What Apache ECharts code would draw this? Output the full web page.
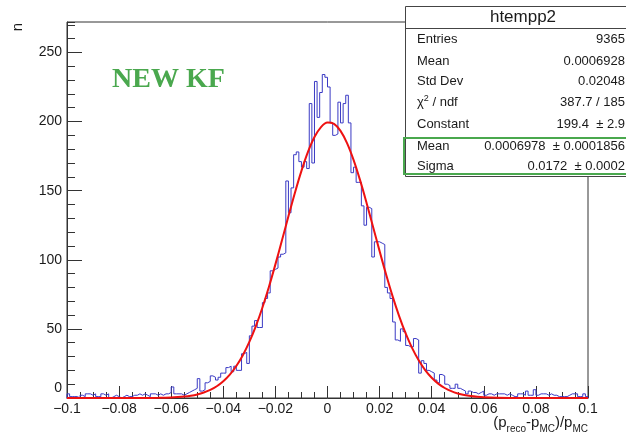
<!DOCTYPE html>
<html><head><meta charset="utf-8">
<script src="https://cdn.jsdelivr.net/npm/echarts@6/dist/echarts.min.js"></script>
<style>html,body{margin:0;padding:0;background:#fff}#c{width:626px;height:435px}</style>
</head><body><div id="c"></div>
<script>
// ---- histogram definition ----
const binLow = -0.1;
const binWidth = 0.001;
const counts = [
  3,1,1,1,0,2,1,3,3,2,
  3,1,1,3,2,3,0,1,2,1,
  0,1,2,1,1,2,2,3,2,3,
  2,1,3,3,2,3,2,3,3,4,
  8,3,3,3,2,3,4,5,6,7,
  14,5,6,11,12,16,15,13,15,18,
  18,22,23,19,23,20,20,32,33,25,
  45,52,56,51,51,69,72,76,92,93,
  94,102,104,105,157,134,152,176,178,171,
  167,171,166,213,170,229,203,221,234,232,
  225,199,190,191,214,199,213,219,199,163,
  167,156,156,139,125,138,137,102,113,113,
  112,111,80,76,72,55,42,41,50,48,
  38,37,37,43,42,18,27,25,20,19,
  18,13,11,17,16,10,9,7,7,10,
  7,6,5,3,5,4,4,3,4,5,
  2,3,3,2,3,3,3,3,2,3,
  2,1,1,3,3,2,5,2,2,6,
  2,3,3,3,2,3,2,2,1,1,
  1,1,2,3,3,3,1,1,3,1
];
// ---- fitted curve ----
const fitX = [-0.1,-0.08,-0.07,-0.065,-0.06,-0.0575,-0.055,-0.0525,-0.05,-0.0475,-0.045,-0.0425,-0.04,-0.0375,-0.035,-0.0325,-0.03,-0.0275,-0.025,-0.0225,-0.02,-0.0175,-0.015,-0.0125,-0.01,-0.0075,-0.005,-0.0025,0,0.0025,0.005,0.0075,0.01,0.0125,0.015,0.0175,0.02,0.0225,0.025,0.0275,0.03,0.0325,0.035,0.0375,0.04,0.0425,0.045,0.0475,0.05,0.0525,0.055,0.0575,0.06,0.065,0.07,0.08,0.1];
const fitY = [0,0,0.03,0.14,0.39,0.65,1.05,1.67,2.59,3.93,5.84,8.51,12.13,16.93,23.14,30.96,40.55,52.01,65.30,80.29,96.66,113.92,131.46,148.54,164.32,177.98,188.75,195.98,199.23,198.31,193.26,184.41,172.28,157.59,141.14,123.75,106.25,89.31,73.50,59.23,46.73,36.10,27.30,20.22,14.66,10.40,7.23,4.92,3.28,2.14,1.37,0.85,0.52,0.18,0.05,0,0];
// ---- stats box ----
const statTitle = 'htempp2';
const statLabels = ['Entries','Mean','Std Dev','{n|χ}{sup|2}{n| / ndf}','Constant','Mean','Sigma'];
const statValues = ['9365','0.0006928','0.02048','387.7 / 185','199.4  ± 2.9','0.0006978  ± 0.0001856','0.0172  ± 0.0002'];
const xMin = -0.1, xMax = 0.1, xStep = 0.02;
const yMin = 0, yMax = 272, yStep = 50, yMinorStep = 10;

const font = '"Liberation Sans", Arial, Helvetica, sans-serif';
const axisColor = '#333';
const txtColor = '#1a1a1a';
const green = '#4aa84e';

const histData = [[binLow, 0]];
counts.forEach((n, i) => histData.push([+(binLow + i * binWidth).toFixed(4), n]));
const binHigh = +(binLow + counts.length * binWidth).toFixed(4);
histData.push([binHigh, counts[counts.length - 1]]);
histData.push([binHigh, 0]);
const fitData = fitX.map((x, i) => [x, fitY[i]]);

const chart = echarts.init(document.getElementById('c'), null, {renderer: 'canvas'});

const rowY = [39, 61, 81, 102, 124, 146, 166];
const statEls = [
  {type: 'rect', shape: {x: 405.5, y: 6.5, width: 240, height: 170}, style: {fill: '#fff', stroke: '#444', lineWidth: 1}},
  {type: 'line', shape: {x1: 405.5, y1: 28.5, x2: 646, y2: 28.5}, style: {stroke: '#444', lineWidth: 1}},
  {type: 'text', x: 523, y: 17, style: {text: statTitle, fontFamily: font, fontSize: 17, fill: txtColor, align: 'center', verticalAlign: 'middle'}},
  {type: 'rect', shape: {x: 404, y: 138, width: 240, height: 36}, style: {fill: 'none', stroke: green, lineWidth: 2}}
];
statLabels.forEach((t, i) => {
  statEls.push({type: 'text', x: 417, y: rowY[i], style: {text: t, fontFamily: font, fontSize: 13, fill: txtColor, align: 'left', verticalAlign: 'middle',
    rich: {n: {fontFamily: font, fontSize: 13, fill: txtColor, lineHeight: 16, verticalAlign: 'middle'}, sup: {fontFamily: font, fontSize: 9, fill: txtColor, lineHeight: 9, verticalAlign: 'top'}}}});
  statEls.push({type: 'text', x: 625, y: rowY[i], style: {text: statValues[i], fontFamily: font, fontSize: 13, fill: txtColor, align: 'right', verticalAlign: 'middle'}});
});

const option = {
  animation: false,
  backgroundColor: '#fff',
  grid: {left: 67, top: 22, width: 521, height: 376, show: true, borderColor: axisColor, borderWidth: 1, backgroundColor: 'transparent'},
  xAxis: [{
    type: 'value', min: xMin, max: xMax, interval: xStep,
    axisLine: {show: true, onZero: false, lineStyle: {color: axisColor, width: 1}},
    axisTick: {show: true, inside: true, length: 12, lineStyle: {color: axisColor}},
    minorTick: {show: true, splitNumber: 4, length: 6, lineStyle: {color: axisColor}},
    splitLine: {show: false}, minorSplitLine: {show: false},
    axisLabel: {fontFamily: font, fontSize: 14, color: txtColor, margin: 4, showMinLabel: true, showMaxLabel: true,
      formatter: v => { const r = Math.round(v * 100) / 100; if (r === 0) return '0'; return (r < 0 ? '\u2212' : '') + String(Math.abs(r)); }}
  }],
  yAxis: [{
    type: 'value', min: yMin, max: yMax, interval: yStep,
    axisLine: {show: true, onZero: false, lineStyle: {color: axisColor, width: 1}},
    axisTick: {show: true, inside: true, length: 15, lineStyle: {color: axisColor}},
    splitLine: {show: false},
    axisLabel: {fontFamily: font, fontSize: 14, color: txtColor, margin: 5, showMaxLabel: false,
      formatter: v => { if (v > 250.5) return ''; if (v === 0) return '{z|0}'; return String(v); },
      rich: {z: {fontFamily: font, fontSize: 14, color: txtColor, padding: [0, 0, 20, 0]}}}
  }, {
    type: 'value', min: yMin, max: yMax, interval: yMinorStep, position: 'left', offset: 0,
    axisLine: {show: false, onZero: false},
    axisTick: {show: true, inside: true, length: 8, lineStyle: {color: axisColor}},
    axisLabel: {show: false}, splitLine: {show: false}
  }],
  series: [{
    type: 'line', data: histData, step: 'end', showSymbol: false, symbol: 'none',
    lineStyle: {color: '#3a3ac4', width: 1}, z: 3, silent: true
  }, {
    type: 'line', data: fitData, smooth: 0.35, showSymbol: false, symbol: 'none',
    lineStyle: {color: '#ee1111', width: 2}, z: 4, silent: true
  }],
  graphic: {elements: [
    {type: 'text', x: 18, y: 27, rotation: Math.PI / 2, style: {text: 'n', fontFamily: font, fontSize: 15, fill: txtColor, align: 'center', verticalAlign: 'middle'}},
    {type: 'text', x: 112, y: 80, style: {text: 'NEW KF', fontFamily: '"Liberation Serif", "Times New Roman", serif', fontWeight: 'bold', fontSize: 28, fill: green, align: 'left', verticalAlign: 'middle'}},
    {type: 'text', x: 588, y: 423, style: {
      text: '{m|(p}{s|reco}{m|-p}{s|MC}{m|)/p}{s|MC}', align: 'right', verticalAlign: 'middle',
      rich: {m: {fontFamily: font, fontSize: 15, fill: txtColor, lineHeight: 22, verticalAlign: 'middle'},
             s: {fontFamily: font, fontSize: 10, fill: txtColor, lineHeight: 10, verticalAlign: 'bottom'}}}},
    {type: 'group', z: 100, children: statEls}
  ]}
};
chart.setOption(option);
</script>
</body></html>
